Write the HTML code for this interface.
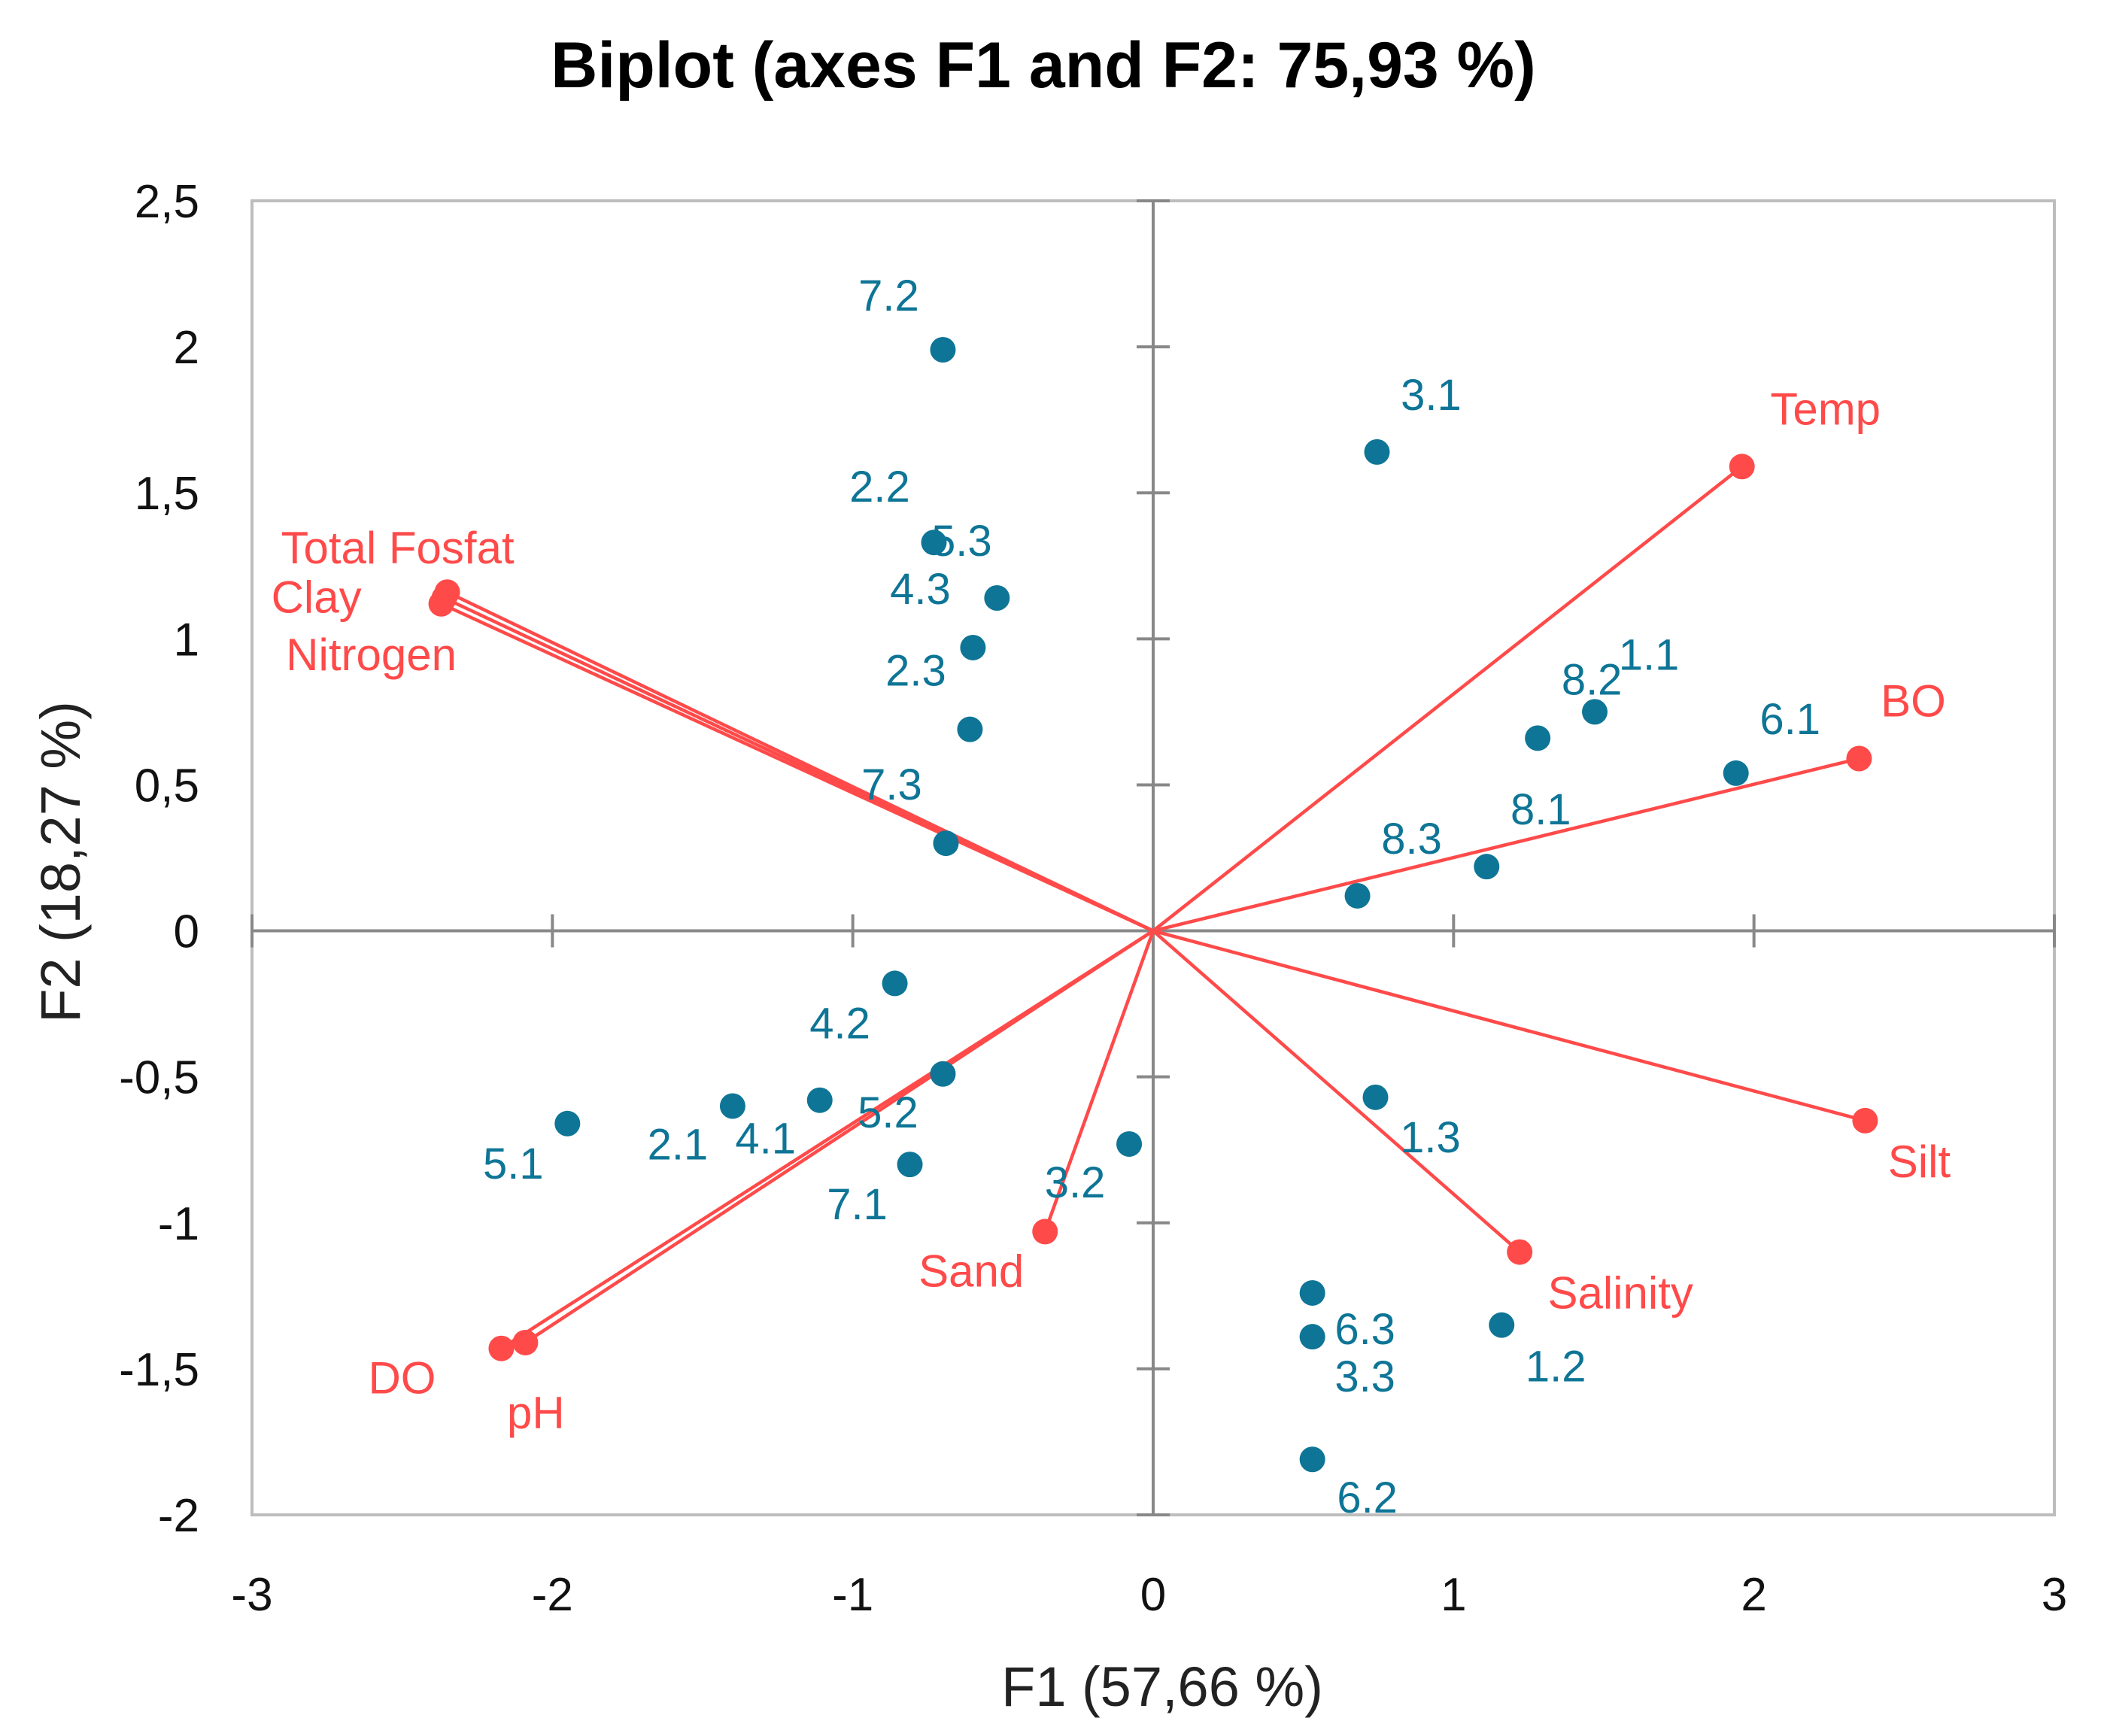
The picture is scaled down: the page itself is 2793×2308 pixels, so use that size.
<!DOCTYPE html>
<html><head><meta charset="utf-8"><style>
html,body{margin:0;padding:0;background:#fff;}
svg{display:block;}
</style></head><body>
<svg id="chart" xmlns="http://www.w3.org/2000/svg" width="2793" height="2308" viewBox="0 0 2793 2308">
<rect width="2793" height="2308" fill="#fff"/>
<text x="1387" y="116" text-anchor="middle" font-family="Liberation Sans, sans-serif" font-weight="bold" font-size="86" fill="#000">Biplot (axes F1 and F2: 75,93 %)</text>
<text x="1545" y="2268" text-anchor="middle" font-family="Liberation Sans, sans-serif" font-size="74" fill="#222">F1 (57,66 %)</text>
<text transform="translate(106,1146) rotate(-90)" text-anchor="middle" font-family="Liberation Sans, sans-serif" font-size="74" fill="#222">F2 (18,27 %)</text>
<g id="plot"></g>
</svg>
<script>
const xTicks=[-3,-2,-1,0,1,2,3];
const yTicks=[-2,-1.5,-1,-0.5,0,0.5,1,1.5,2,2.5];
const obsNames=["7.2","3.1","2.2","5.3","4.3","2.3","7.3","8.2","1.1","6.1","8.1","8.3","4.2","5.2","4.1","2.1","5.1","7.1","3.2","1.3","6.3","3.3","1.2","6.2"];
const obsF1=[-0.70,0.745,-0.73,-0.52,-0.60,-0.61,-0.69,1.28,1.47,1.94,1.11,0.68,-0.86,-0.70,-1.11,-1.40,-1.95,-0.81,-0.08,0.74,0.53,0.53,1.16,0.53];
const obsF2=[1.99,1.64,1.33,1.14,0.97,0.69,0.30,0.66,0.75,0.54,0.22,0.12,-0.18,-0.49,-0.58,-0.60,-0.66,-0.80,-0.73,-0.57,-1.24,-1.39,-1.35,-1.81];
const obsLabelDx=[-72,72,-72,-47,-70,-72,-72,72,72,72,72,72,-73,-73,-72,-73,-72,-70,-72,73,70,70,72,73];
const obsLabelDy=[-73,-77,-75,-77,-79,-79,-79,-79,-77,-73,-77,-77,52,50,50,50,52,52,50,52,47,52,54,50];
const varNames=["Total Fosfat","Clay","Nitrogen","Temp","BO","Silt","Salinity","Sand","DO","pH"];
const varF1=[-2.35,-2.37,-2.36,1.96,2.35,2.37,1.22,-0.36,-2.17,-2.09];
const varF2=[1.16,1.12,1.14,1.59,0.59,-0.65,-1.10,-1.03,-1.43,-1.41];
const varLabelDx=[-66,-166,-97,111,72,72,134,-98,-132,14];
const varLabelDy=[-59,-9,75,-77,-77,54,54,52,39,93];

const L=335,R=2731,T=267,B=2014;
const sx=v=>L+(v+3)/6*(R-L);
const sy=v=>B-(v+2)/4.5*(B-T);
const NS="http://www.w3.org/2000/svg";
const g=document.getElementById('plot');
function mk(tag,attrs){const e=document.createElementNS(NS,tag);for(const k in attrs)e.setAttribute(k,attrs[k]);g.appendChild(e);return e;}

let e=mk('rect',{x:L,y:T,width:R-L,height:B-T,fill:'none',stroke:'#bdbdbd','stroke-width':4});


e=mk('line',{x1:L,x2:R,y1:sy(0),y2:sy(0),stroke:'#888','stroke-width':4});


e=mk('line',{x1:sx(0),x2:sx(0),y1:T,y2:B,stroke:'#888','stroke-width':4});



xTicks.forEach(t=>{
  const m=mk('line',{x1:sx(t),x2:sx(t),y1:sy(0)-22,y2:sy(0)+22,stroke:'#888','stroke-width':4});
  
  
  const tx=mk('text',{x:sx(t),y:2141,'text-anchor':'middle','font-family':'Liberation Sans, sans-serif','font-size':62,fill:'#111'});
  tx.textContent=String(t);
  
  
});
yTicks.forEach(t=>{
  const m=mk('line',{x1:sx(0)-22,x2:sx(0)+22,y1:sy(t),y2:sy(t),stroke:'#888','stroke-width':4});
  
  
  const tx=mk('text',{x:265,y:sy(t)+22,'text-anchor':'end','font-family':'Liberation Sans, sans-serif','font-size':62,fill:'#111'});
  tx.textContent=String(t).replace('.',',');
  
  
});

varNames.forEach((n,i)=>{
  const ln=mk('line',{x1:sx(0),y1:sy(0),x2:sx(varF1[i]),y2:sy(varF2[i]),stroke:'#ff4a4a','stroke-width':4.5});
  
  
});
varNames.forEach((n,i)=>{
  const c=mk('circle',{cx:sx(varF1[i]),cy:sy(varF2[i]),r:17,fill:'#ff4a4a'});
  
  
  const tx=mk('text',{x:sx(varF1[i])+varLabelDx[i],y:sy(varF2[i])+varLabelDy[i]+21,'text-anchor':'middle','font-family':'Liberation Sans, sans-serif','font-size':60,fill:'#ff4a4a'});
  tx.textContent=n;
  
  
});
obsNames.forEach((n,i)=>{
  const c=mk('circle',{cx:sx(obsF1[i]),cy:sy(obsF2[i]),r:17,fill:'#0e7596'});
  
  
  const tx=mk('text',{x:sx(obsF1[i])+obsLabelDx[i],y:sy(obsF2[i])+obsLabelDy[i]+21,'text-anchor':'middle','font-family':'Liberation Sans, sans-serif','font-size':58,fill:'#0e7596'});
  tx.textContent=n;
  
  
});
</script>
</body></html>
